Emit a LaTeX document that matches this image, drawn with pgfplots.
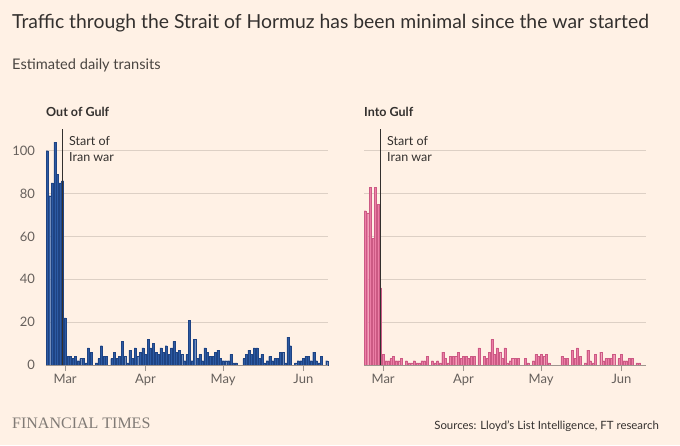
\documentclass[border=0pt]{standalone}
\usepackage{fontspec}
\setmainfont{Lato}
\newfontfamily\ftserif{Liberation Serif}
\usepackage{pgfplots}
\pgfplotsset{compat=1.18}
\usepackage{pgfplotstable}
\definecolor{bg}{HTML}{FFF1E5}
\definecolor{titlec}{HTML}{33302E}
\definecolor{subc}{HTML}{4A4541}
\definecolor{tickc}{HTML}{66605C}
\definecolor{gridc}{HTML}{DDD0C5}
\definecolor{axisc}{HTML}{9E958E}
\definecolor{bluec}{HTML}{2C5AA3}
\definecolor{bluedk}{HTML}{1E4383}
\definecolor{pinkc}{HTML}{EC7EA6}
\definecolor{pinkdk}{HTML}{CC5A84}
\definecolor{ftgrey}{HTML}{807A75}

\pgfplotstableread{
d v
-7 100
-6 79
-5 85
-4 104
-3 89
-2 85
-1 86
0 22
1 4
2 4
3 3
4 4
5 2
6 3
7 3
8 1
9 8
10 6
12 1
13 3
14 9
15 4
16 4
18 3
19 6
20 3
21 4
22 11
23 4
24 1
25 7
26 3
27 8
28 4
29 6
30 8
31 5
32 12
33 8
34 10
35 6
36 5
37 8
38 6
39 9
40 5
41 8
42 11
43 6
44 7
45 5
46 2
47 5
48 21
49 2
50 12
51 3
52 5
53 2
54 8
55 6
56 4
57 4
58 6
59 7
60 3
61 2
62 2
63 2
64 5
65 1
66 1
69 3
70 5
71 7
72 5
73 8
74 8
75 3
76 5
77 1
78 2
79 4
80 2
81 3
82 3
83 6
84 6
85 1
86 13
87 9
89 1
90 2
91 2
92 3
93 4
94 4
95 2
96 6
97 2
98 1
99 4
101 2
}\outgulf

\pgfplotstableread{
d v
-7 72
-6 71
-5 83
-4 59
-3 83
-2 75
-1 36
0 5
1 2
2 2
3 3
4 4
5 2
6 2
7 3
9 2
10 1
11 1
12 2
13 1
14 1
15 2
16 2
17 4
19 2
20 1
21 2
22 1
23 6
24 3
25 1
26 4
27 4
28 4
29 6
30 3
31 4
32 4
33 3
34 4
35 4
37 8
39 4
40 3
41 6
42 12
43 5
44 8
45 6
46 3
47 8
48 1
49 2
50 3
51 3
52 3
55 3
56 1
58 2
59 5
60 4
61 5
62 4
63 5
64 1
69 4
70 3
71 3
73 7
74 3
75 8
76 4
78 1
79 7
80 2
81 1
82 5
84 6
85 2
86 3
87 3
88 3
89 5
91 3
92 5
93 2
94 2
95 3
96 3
98 1
99 1
}\intogulf

\pgfplotsset{
  panel/.style={
    scale only axis, width=282pt, height=235.7pt,
    anchor=south west,
    xmin=-7.4, xmax=101.5, ymin=0, ymax=110,
    axis line style={draw=none},
    ymajorgrids, grid style={gridc, line width=0.8pt},
    ytick={0,20,40,60,80,100},
    ytick style={draw=none},
    xtick={0,31,61,92}, xticklabels={Mar,Apr,May,Jun},
    xtick style={axisc, line width=0.8pt},
    tick align=outside, xtick pos=left, ytick pos=left,
    major tick length=5.5pt,
    ticklabel style={font=\fontsize{13}{16}\selectfont, text=tickc},
    /pgf/number format/assume math mode=true,
    clip=false,
  }
}

\begin{document}
\begin{tikzpicture}[x=1pt,y=1pt]
\fill[bg] (0,0) rectangle (680,445);
\path[use as bounding box] (0,0) rectangle (680,445);

\node[anchor=base west, inner sep=0, text=titlec, font=\fontsize{19.35}{23}\selectfont] at (12,416.5) {Traffic through the Strait of Hormuz has been minimal since the war started};
\node[anchor=base west, inner sep=0, text=subc, font=\fontsize{14.6}{18}\selectfont] at (12,375) {Estimated daily transits};

\node[anchor=base west, inner sep=0, text=titlec, font=\bfseries\fontsize{12.5}{15}\selectfont] at (46,328) {Out of Gulf};
\node[anchor=base west, inner sep=0, text=titlec, font=\bfseries\fontsize{12.5}{15}\selectfont] at (364,328) {Into Gulf};

\begin{axis}[panel, at={(46pt,80pt)}, yticklabel style={xshift=-2pt}]
  \addplot[ybar, bar width=2.05pt, fill=bluec, draw=bluedk, line width=0.3pt] table[x=d,y=v] {\outgulf};
  \draw[axisc, line width=0.8pt] (axis cs:-7.4,0) -- (axis cs:101.5,0);
  \draw[titlec, line width=1pt] (axis cs:-0.85,0) -- (axis cs:-0.85,110);
\end{axis}

\begin{axis}[panel, at={(364pt,80pt)}, yticklabels={}]
  \addplot[ybar, bar width=2.05pt, fill=pinkc, draw=pinkdk, line width=0.3pt] table[x=d,y=v] {\intogulf};
  \draw[axisc, line width=0.8pt] (axis cs:-7.4,0) -- (axis cs:101.5,0);
  \draw[titlec, line width=1pt] (axis cs:-0.85,0) -- (axis cs:-0.85,110);
\end{axis}

\node[anchor=base west, inner sep=0, text=titlec, font=\fontsize{12.5}{16}\selectfont] at (69,299) {Start of};
\node[anchor=base west, inner sep=0, text=titlec, font=\fontsize{12.5}{16}\selectfont] at (69,283) {Iran war};
\node[anchor=base west, inner sep=0, text=titlec, font=\fontsize{12.5}{16}\selectfont] at (387,299) {Start of};
\node[anchor=base west, inner sep=0, text=titlec, font=\fontsize{12.5}{16}\selectfont] at (387,283) {Iran war};

\node[anchor=base west, inner sep=0, text=ftgrey, font=\ftserif\fontsize{16}{18}\selectfont] at (12,17) {FINANCIAL TIMES};
\node[anchor=base east, inner sep=0, text=titlec, font=\fontsize{11.4}{14}\selectfont] at (659,15.5) {Sources: Lloyd's List Intelligence, FT research};
\end{tikzpicture}
\end{document}
